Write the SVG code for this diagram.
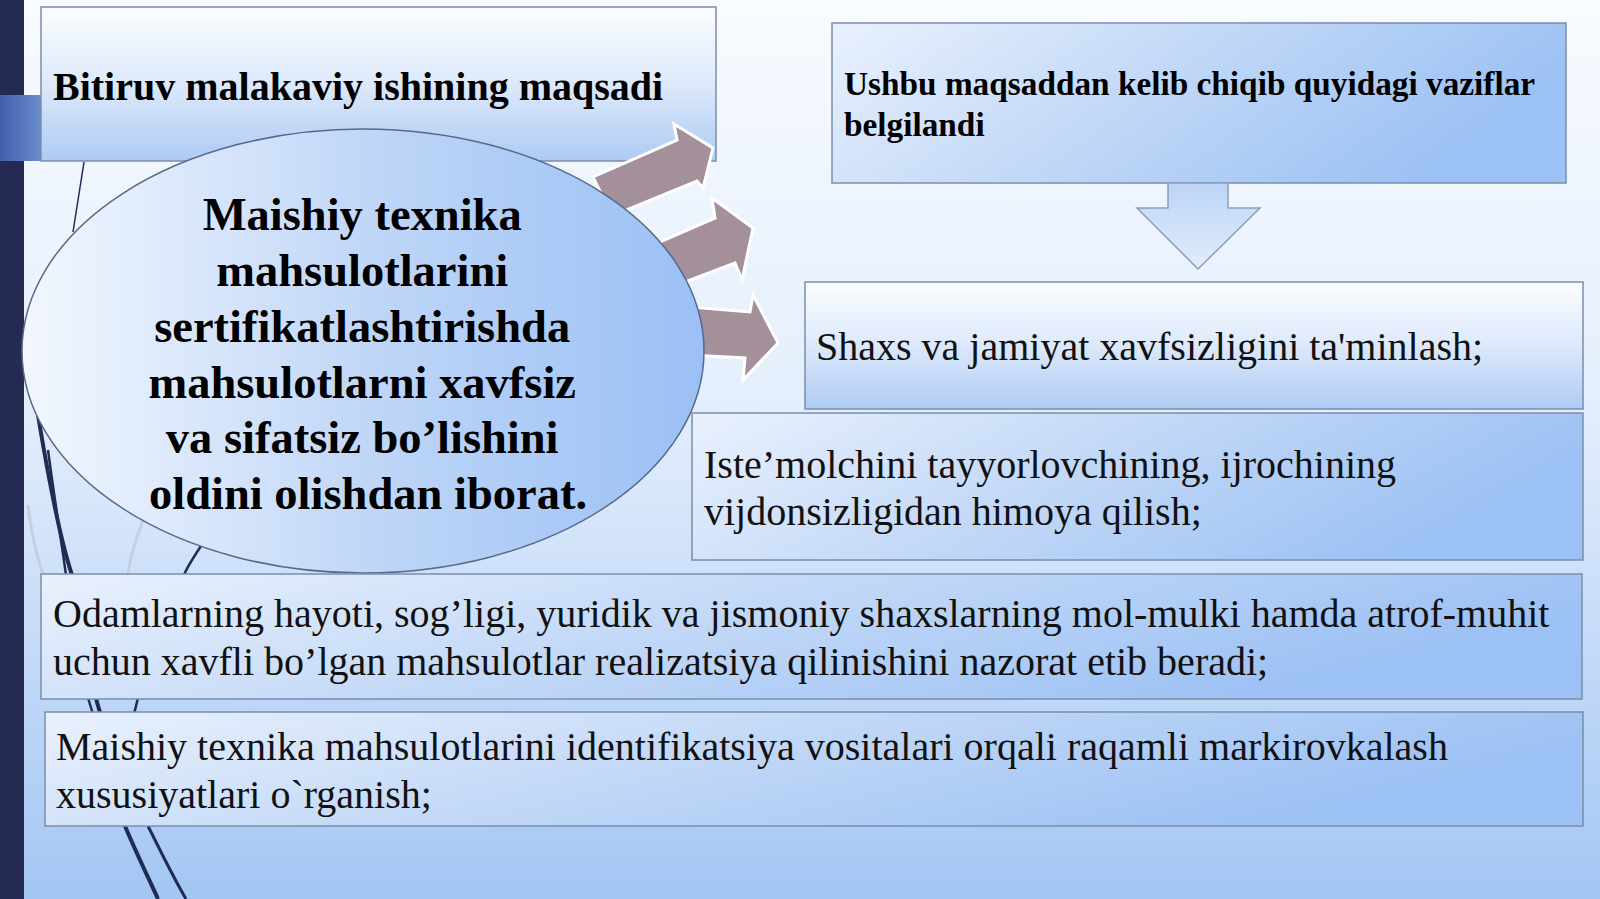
<svg xmlns="http://www.w3.org/2000/svg" width="1600" height="899" viewBox="0 0 1600 899">
<defs>
<linearGradient id="bg" x1="0" y1="0" x2="0" y2="1">
<stop offset="0" stop-color="#f8fbff"/>
<stop offset="0.45" stop-color="#e4eefc"/>
<stop offset="1" stop-color="#a4c6f4"/>
</linearGradient>
<linearGradient id="vgrad" x1="0" y1="0" x2="0" y2="1">
<stop offset="0" stop-color="#fbfdff"/>
<stop offset="0.5" stop-color="#dde9fb"/>
<stop offset="1" stop-color="#aecbf4"/>
</linearGradient>
<linearGradient id="hgrad" x1="0" y1="0" x2="1" y2="0.3">
<stop offset="0" stop-color="#eaf1fd"/>
<stop offset="0.5" stop-color="#c2d8f7"/>
<stop offset="1" stop-color="#9cc1f4"/>
</linearGradient>
<linearGradient id="ellg" x1="0" y1="0" x2="1" y2="0">
<stop offset="0" stop-color="#f3f7fe"/>
<stop offset="0.55" stop-color="#bcd4f7"/>
<stop offset="1" stop-color="#9bc0f5"/>
</linearGradient>
<linearGradient id="darrow" x1="0" y1="0" x2="0" y2="1">
<stop offset="0" stop-color="#bcd4f6"/>
<stop offset="1" stop-color="#e3edfc"/>
</linearGradient>
<linearGradient id="tab" x1="0" y1="0" x2="1" y2="0">
<stop offset="0" stop-color="#3f5ea8"/>
<stop offset="1" stop-color="#6c8fd0"/>
</linearGradient>
</defs>
<style>
.box{stroke:#7a8eab;stroke-width:1.5}
.bold{font-family:"Liberation Serif","Times New Roman",serif;font-weight:bold;fill:#000}
.reg{font-family:"Liberation Serif","Times New Roman",serif;font-size:40px;fill:#111}
.arr{fill:#a4909b;stroke:#ffffff;stroke-width:3;stroke-linejoin:miter}
.deco{fill:none;stroke:#1f2d55}
.decol{fill:none;stroke:#c4cfdf}
</style>
<rect x="0" y="0" width="1600" height="899" fill="url(#bg)"/>
<rect x="0" y="0" width="24" height="899" fill="#252a52"/>
<rect x="0" y="95" width="42" height="66" fill="url(#tab)"/>
<g id="decor">
<path class="decol" stroke-width="3" d="M28,505 C32,540 40,570 48,585"/>
<path class="decol" stroke-width="3" d="M143,520 C136,540 130,556 128,575"/>
<path class="deco" stroke-width="4" d="M38,415 C52,500 62,545 72,575 C82,630 92,690 100,712"/>
<path class="deco" stroke-width="2.5" d="M48,450 C56,510 62,545 66,575"/>
<path class="deco" stroke-width="2.5" d="M205,540 C195,555 188,565 184,575 M138,698 L134,714"/>
<path class="deco" stroke-width="2.5" d="M88,698 L93,714"/>
<path class="deco" stroke-width="4" d="M125,826 C135,850 147,875 158,899"/>
<path class="deco" stroke-width="3" d="M148,826 C160,850 172,875 186,899"/>
<path class="deco" stroke-width="1.5" d="M84,162 L73,232"/>
</g>
<g id="title">
<rect class="box" x="41" y="7" width="675" height="154" fill="url(#vgrad)"/>
<text class="bold" x="53" y="100" font-size="40">Bitiruv malakaviy ishining maqsadi</text>
</g>
<g id="tasks-header">
<rect class="box" x="832" y="23" width="734" height="160" fill="url(#hgrad)"/>
<text class="bold" font-size="33.3" x="844" y="95">Ushbu maqsaddan kelib chiqib quyidagi vaziflar</text>
<text class="bold" font-size="33.3" x="844" y="136">belgilandi</text>
</g>
<g id="connectors">
<polygon class="arr" points="593,177 677,140 674,124 713,148 703,188 697,181 612,216"/>
<polygon class="arr" points="655,244 715,218 712,198 753,228 742,280 735,263 680,284"/>
<polygon class="arr" points="690,307 750,312 753,295 778,343 743,380 745,358 690,355"/>
<polygon points="1168,183 1228,183 1228,208 1260,208 1198,269 1137,208 1168,208" fill="url(#darrow)" stroke="#8d9fb8" stroke-width="1.5"/>
</g>
<g id="goal">
<ellipse cx="363" cy="351" rx="341" ry="222" fill="url(#ellg)" stroke="#56698a" stroke-width="1.5"/>
<text class="bold" font-size="46.5" text-anchor="middle">
<tspan x="368" y="230">Maishiy texnika</tspan>
<tspan x="368" y="286">mahsulotlarini</tspan>
<tspan x="368" y="342">sertifikatlashtirishda</tspan>
<tspan x="368" y="398">mahsulotlarni xavfsiz</tspan>
<tspan x="368" y="453">va sifatsiz bo’lishini</tspan>
<tspan x="368" y="509">oldini olishdan iborat.</tspan>
</text>
</g>
<g id="task1">
<rect class="box" x="805" y="282" width="778" height="127" fill="url(#vgrad)"/>
<text class="reg" x="816" y="360">Shaxs va jamiyat xavfsizligini ta'minlash;</text>
</g>
<g id="task2">
<rect class="box" x="692" y="413" width="891" height="147" fill="url(#hgrad)"/>
<text class="reg" x="704" y="478">Iste’molchini tayyorlovchining, ijrochining</text>
<text class="reg" x="704" y="525">vijdonsizligidan himoya qilish;</text>
</g>
<g id="task3">
<rect class="box" x="41" y="574" width="1541" height="125" fill="url(#hgrad)"/>
<text class="reg" x="53" y="627">Odamlarning hayoti, sog’ligi, yuridik va jismoniy shaxslarning mol-mulki hamda atrof-muhit</text>
<text class="reg" x="53" y="675">uchun xavfli bo’lgan mahsulotlar realizatsiya qilinishini nazorat etib beradi;</text>
</g>
<g id="task4">
<rect class="box" x="45" y="712" width="1538" height="114" fill="url(#hgrad)"/>
<text class="reg" x="56" y="760">Maishiy texnika mahsulotlarini identifikatsiya vositalari orqali raqamli markirovkalash</text>
<text class="reg" x="56" y="808">xususiyatlari o`rganish;</text>
</g>
</svg>
